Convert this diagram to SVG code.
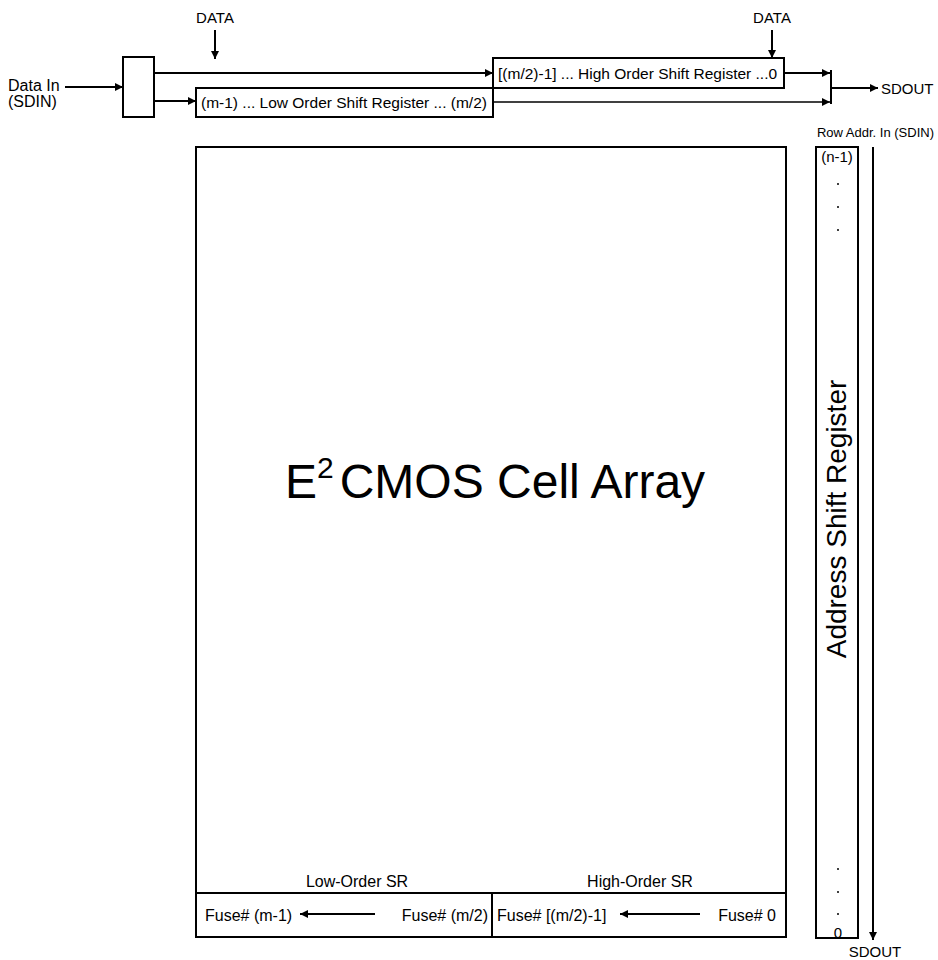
<svg xmlns="http://www.w3.org/2000/svg" width="938" height="960" viewBox="0 0 938 960">
<style>
text{font-family:"Liberation Sans",Arial,sans-serif;fill:#000}
.s{font-size:15px}
.r{font-size:15.5px}
.m{font-size:16px}
.box{fill:#fff;stroke:#000;stroke-width:2}
.ln{fill:none;stroke:#000;stroke-width:2}
</style>
<defs>
<marker id="ah" viewBox="0 0 10 10" refX="10" refY="5" markerWidth="14" markerHeight="8" markerUnits="userSpaceOnUse" orient="auto">
<path d="M0,0 L10,5 L0,10 z" fill="#000"/>
</marker>
</defs>
<rect width="938" height="960" fill="#fff"/>

<g id="mux"><rect class="box" x="123" y="57" width="31" height="60"/></g>
<g id="high-reg">
<rect class="box" x="493" y="58" width="291" height="30"/>
<text class="r" x="498" y="79">[(m/2)-1] ... High Order Shift Register ...0</text>
</g>
<g id="low-reg">
<rect class="box" x="196" y="88" width="297" height="29"/>
<text class="r" x="201" y="108">(m-1) ... Low Order Shift Register ... (m/2)</text>
</g>
<g id="array">
<rect class="box" x="196" y="147" width="590" height="790"/>
<text x="285" y="498" font-size="48">E<tspan font-size="30" dy="-20">2</tspan><tspan dy="20" dx="6">CMOS Cell Array</tspan></text>
<line class="ln" x1="196" y1="893" x2="786" y2="893"/>
<line class="ln" x1="492" y1="893" x2="492" y2="937"/>
<text class="m" x="357" y="887" text-anchor="middle">Low-Order SR</text>
<text class="m" x="640" y="887" text-anchor="middle">High-Order SR</text>
<text class="m" x="205" y="921">Fuse# (m-1)</text>
<text class="m" x="488" y="921" text-anchor="end">Fuse# (m/2)</text>
<text class="m" x="497" y="921">Fuse# [(m/2)-1]</text>
<text class="m" x="776" y="921" text-anchor="end">Fuse# 0</text>
</g>
<g id="addr-reg">
<rect class="box" x="816" y="147" width="42" height="791"/>
<text class="s" x="837" y="162" text-anchor="middle">(n-1)</text>
<g fill="#000"><circle cx="838" cy="184" r="1"/><circle cx="838" cy="207" r="1"/><circle cx="838" cy="230" r="1"/><circle cx="838" cy="869" r="1"/><circle cx="838" cy="892" r="1"/><circle cx="838" cy="914" r="1"/></g>
<text class="s" x="838" y="938" text-anchor="middle">0</text>
<text x="0" y="0" font-size="28" text-anchor="middle" transform="translate(846,519) rotate(-90)">Address Shift Register</text>
</g>

<g id="labels">
<text class="m" x="8" y="91">Data In</text>
<text class="m" x="8" y="107">(SDIN)</text>
<text class="s" x="215" y="23" text-anchor="middle">DATA</text>
<text class="s" x="772" y="23" text-anchor="middle">DATA</text>
<text class="s" x="881" y="94">SDOUT</text>
<text x="934" y="137" font-size="13" text-anchor="end">Row Addr. In (SDIN)</text>
<text class="s" x="875" y="957" text-anchor="middle">SDOUT</text>
</g>

<g id="connectors">
<line class="ln" x1="65" y1="87" x2="123" y2="87" marker-end="url(#ah)"/>
<line class="ln" x1="154" y1="73" x2="493" y2="73" marker-end="url(#ah)"/>
<line class="ln" x1="154" y1="101" x2="196" y2="101" marker-end="url(#ah)"/>
<line class="ln" x1="215" y1="30" x2="215" y2="59" marker-end="url(#ah)"/>
<line class="ln" x1="772" y1="30" x2="772" y2="58" marker-end="url(#ah)"/>
<line class="ln" x1="784" y1="73" x2="830" y2="73" marker-end="url(#ah)"/>
<line x1="493" y1="102" x2="830" y2="102" stroke="#000" stroke-width="1.3" marker-end="url(#ah)"/>
<line class="ln" x1="831" y1="70" x2="831" y2="104"/>
<line class="ln" x1="831" y1="88" x2="878" y2="88" marker-end="url(#ah)"/>
<line class="ln" x1="873" y1="147" x2="873" y2="940" marker-end="url(#ah)"/>
<line class="ln" x1="375" y1="914" x2="300" y2="914" marker-end="url(#ah)"/>
<line class="ln" x1="700" y1="914" x2="620" y2="914" marker-end="url(#ah)"/>
</g>
</svg>
